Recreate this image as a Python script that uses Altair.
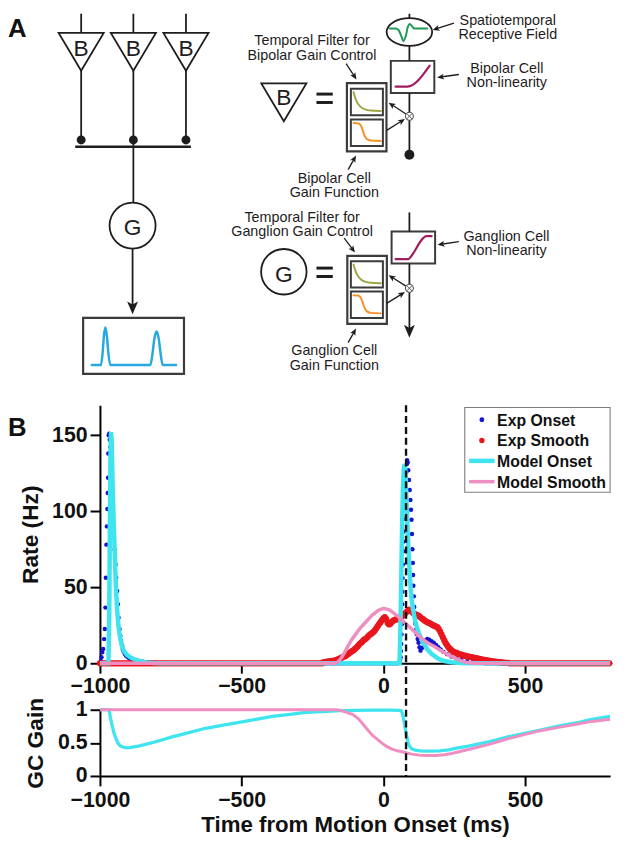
import math
import altair as alt
import pandas as pd

FONT = "Liberation Sans"
INK = "#1f1c1d"

# ======================= Panel B : values =======================
SERIES = ["Exp Onset", "Exp Smooth", "Model Onset", "Model Smooth"]
SERIES_COLORS = ["#1414cf", "#e8161c", "#3ee4ef", "#ef8fc1"]
X_TICKS = [-1000, -500, 0, 500]
RATE_TICKS = [0, 50, 100, 150]
GAIN_TICKS = [0, 0.5, 1]
MOTION_MARK_MS = 80

# Exp Onset (ms, Hz): first burst
exp_onset_burst1 = [(-1000, 0.5), (-997, 1.5), (-994.5, 3.9), (-992, 7.2), (-988.6, 9.4), (-985.2, 15.9),
                    (-982.8, 22.5), (-980.7, 36.6), (-979.3, 56.2), (-977.2, 78), (-975.5, 90), (-973.8, 101.5),
                    (-972.5, 112), (-971.4, 122), (-970.5, 138), (-969, 150), (-967.5, 151), (-965.5, 147),
                    (-963.3, 142.3), (-962, 131), (-961, 121), (-960, 112.9), (-957.6, 103), (-954, 94.4),
                    (-950.7, 84.6), (-948.3, 74.8), (-945, 65), (-942.6, 56.2), (-939.3, 47.5), (-937, 38.8),
                    (-934.5, 30), (-931, 22.5), (-928, 18), (-925.5, 14.8), (-922, 11.8), (-919.7, 9.4),
                    (-917, 8), (-914, 7), (-911, 6), (-908, 5), (-904, 4.4), (-900, 3.8), (-896, 3.3), (-891, 2.9),
                    (-885, 2.5), (-880, 2.2), (-875, 1.9), (-870, 1.7), (-863, 1.5), (-856.6, 1.3), (-850, 1.1),
                    (-845, 0.9), (-838, 0.7), (-830, 0.6), (-822, 0.5), (-815, 0.4), (-808, 0.3), (-800, 0.2)]
# Exp Onset: second burst
exp_onset_burst2 = [(57, 1), (59, 2.5), (61, 4), (62, 8), (63, 12.7), (64, 19), (65, 25.7), (66, 32),
                    (66.5, 38.8), (67.5, 47), (68, 56), (69, 65), (70, 73.7), (71, 80), (72, 86.7), (74, 95),
                    (75.5, 103), (77, 109), (78.5, 115), (80, 121), (81.5, 126), (83, 131), (84, 133.6),
                    (86, 132), (88, 127), (90.5, 120.5), (93, 114), (95.5, 107.4), (97.5, 101), (99.3, 94.4),
                    (101, 85), (102.5, 75), (104, 66), (105, 58), (106, 51), (107.5, 44), (109, 37), (111, 31),
                    (113, 26), (115.5, 22), (118, 19), (121, 16), (124, 13.5), (127.5, 10.5), (131, 8.3),
                    (136, 10), (142, 13), (148, 15), (155, 16), (162, 15.5), (170, 14.5), (178, 13.5), (186, 12),
                    (194, 10.5), (202, 9), (212, 7.5), (225, 6), (240, 4.5), (258, 3.2), (275, 2.2), (295, 1.3),
                    (315, 0.7), (340, 0.3)]
# Exp Onset: time points where the rate sits on zero
exp_onset_zero_t = list(range(-790, 57, 8)) + list(range(360, 801, 8))

# Exp Smooth (ms, Hz)
exp_smooth_hump = [(-215, 0.5), (-210, 0.6), (-205, 0.8), (-200, 1.0), (-195, 1.0), (-190, 1.2), (-185, 1.4),
                   (-180, 1.6), (-175, 1.6), (-170, 1.9), (-165, 2.3), (-160, 2.6), (-155, 3.0), (-150, 3.3),
                   (-145, 3.9), (-140, 4.4), (-135, 4.6), (-130, 5.2), (-125, 6.0), (-120, 6.8), (-115, 7.4),
                   (-110, 8.0), (-105, 8.6), (-100, 9.4), (-95, 10.3), (-90, 11.2), (-85, 12.5), (-80, 13.3),
                   (-75, 14.0), (-70, 15.2), (-65, 15.8), (-60, 16.4), (-55, 17.5), (-50, 18.4), (-45, 19.2),
                   (-40, 19.8), (-35, 20.6), (-30, 21.6), (-25, 23.0), (-20, 24.4), (-15, 25.8), (-10, 27.0),
                   (-5, 28.4), (0, 29.6), (5, 30.4), (10, 29.0), (15, 26.5), (20, 25.5), (25, 26.0), (30, 27.2),
                   (35, 28.0), (40, 28.5), (45, 28.8), (50, 29.0), (55, 29.4), (60, 30.0), (65, 30.8), (70, 31.6),
                   (75, 32.5), (80, 33.4), (85, 34.3), (90, 35.2), (95, 35.0), (100, 34.0), (105, 33.0),
                   (110, 32.4), (115, 32.0), (120, 31.6), (125, 31.2), (130, 30.4), (135, 29.6), (140, 29.0),
                   (145, 28.2), (150, 27.6), (155, 27.0), (160, 26.6), (165, 26.2), (170, 25.6), (175, 25.0),
                   (180, 24.6), (185, 24.2), (190, 23.8), (195, 22.6), (200, 21.0), (205, 19.0), (210, 17.0),
                   (215, 15.0), (220, 13.2), (225, 11.8), (230, 10.4), (235, 9.4), (240, 8.6), (245, 7.9),
                   (250, 7.4), (255, 7.0), (260, 6.6), (265, 6.2), (270, 5.9), (275, 5.6), (280, 5.3), (285, 5.0),
                   (290, 4.8), (295, 4.6), (300, 4.4), (305, 4.2), (310, 4.0), (315, 3.8), (320, 3.6), (325, 3.4),
                   (330, 3.2), (335, 3.0), (340, 2.8), (345, 2.6), (350, 2.4), (355, 2.2), (360, 2.0), (365, 1.9),
                   (370, 1.7), (375, 1.6), (380, 1.4), (385, 1.3), (390, 1.1), (395, 1.0), (400, 0.9), (405, 0.8),
                   (410, 0.7), (415, 0.6), (420, 0.5), (425, 0.4), (430, 0.3), (435, 0.2), (440, 0.2)]
exp_smooth_zero_t = list(range(-1000, -215, 8)) + list(range(445, 801, 8))

# Model Onset (ms, Hz)
model_onset = [(-1000, 0), (-970, 0), (-967, 35), (-965, 90), (-963, 135), (-961, 152), (-959, 148), (-957, 132),
               (-955, 115), (-953, 103), (-951, 90), (-949, 79), (-946, 62), (-943, 47), (-940, 37), (-937, 29),
               (-933, 22), (-929, 17), (-924, 12.5), (-916, 8.3), (-905, 5.5), (-893, 3.9), (-875, 2.3),
               (-857, 1.3), (-835, 0.6), (-810, 0.2), (-780, 0), (57, 0), (60, 22), (63, 55), (66, 90),
               (69, 115), (72, 128), (75, 131), (78, 126), (81, 110), (84, 95), (87, 82), (90, 70),
               (93, 59), (96.5, 49), (100, 42), (104, 36), (109, 31), (115, 26), (121, 22), (126, 19.5),
               (131, 17.5), (137, 15), (144, 12.5), (155, 9.2), (171, 6.1), (194, 2.9), (215, 1.5), (240, 0.7),
               (270, 0.2), (300, 0), (800, 0)]
# Model Smooth (ms, Hz)
model_smooth = [(-1000, 0), (-170, 0), (-160, 1), (-150, 3), (-140, 6), (-130, 9.5), (-120, 13), (-110, 16),
                (-100, 18.5), (-90, 21), (-80, 23.5), (-70, 25.5), (-60, 27.5), (-50, 29.5), (-40, 31.5),
                (-30, 33), (-20, 34.5), (-10, 35.5), (0, 36), (10, 35.8), (20, 35.2), (30, 34), (40, 32.5),
                (50, 31), (60, 29.2), (80, 26), (100, 22.5), (120, 19), (140, 15.5), (160, 13), (180, 11),
                (200, 8.7), (220, 6.5), (240, 4.5), (260, 2.8), (280, 1.3), (300, 0.3), (320, 0), (800, 0)]

# GC gain (ms, gain)
gain_onset = [(-1000, 1), (-968, 1), (-962, 0.86), (-956, 0.74), (-950, 0.64), (-944, 0.57), (-937, 0.5),
              (-930, 0.46), (-922, 0.44), (-914, 0.43), (-905, 0.425), (-895, 0.428), (-880, 0.44), (-860, 0.455),
              (-800, 0.52), (-745, 0.59), (-700, 0.64), (-627, 0.72), (-560, 0.77), (-509, 0.81), (-450, 0.855),
              (-391, 0.9), (-330, 0.93), (-273, 0.96), (-200, 0.975), (-155, 0.985), (-100, 0.99), (-37, 0.995),
              (20, 0.995), (58, 0.99), (63, 0.985), (68, 0.93), (74, 0.8), (80, 0.65), (86, 0.52), (92, 0.45),
              (100, 0.41), (112, 0.39), (130, 0.38), (160, 0.375), (199, 0.38), (230, 0.395), (258, 0.42),
              (300, 0.45), (376, 0.52), (430, 0.58), (494, 0.64), (550, 0.69), (613, 0.75), (680, 0.8),
              (731, 0.85), (800, 0.9)]
gain_smooth = [(-1000, 1), (-165, 1), (-150, 0.99), (-130, 0.96), (-109, 0.93), (-90, 0.87), (-75, 0.8),
               (-60, 0.72), (-40, 0.62), (-20, 0.55), (-6, 0.5), (10, 0.45), (28, 0.41), (50, 0.38), (80, 0.35),
               (100, 0.33), (126, 0.315), (150, 0.31), (184, 0.31), (215, 0.32), (241, 0.34), (270, 0.37),
               (300, 0.4), (376, 0.48), (430, 0.55), (494, 0.62), (550, 0.68), (613, 0.73), (680, 0.78),
               (731, 0.82), (800, 0.855)]

# ======================= Panel A : schematic drawing (figure pixel units) =======================
SCHEM_LINES = [  # x1, y1, x2, y2, width
    (82, 9, 82, 28.3, 1.8), (134.8, 9, 134.8, 28.3, 1.8), (188, 9, 188, 28.3, 1.8),
    (82, 66.7, 82, 136.7, 1.8), (134.8, 66.7, 134.8, 199.8, 1.8), (188, 66.7, 188, 136.7, 1.8),
    (76, 143.5, 193, 143.5, 2.6),
    (414, 9, 414, 13.5, 1.8), (414, 41.5, 414, 56.7, 1.8), (414, 89.3, 414, 108.7, 1.8),
    (414, 116.7, 414, 147, 1.8), (414, 210, 414, 229.3, 1.8), (414, 261.7, 414, 282.7, 1.8),
    (320, 90.3, 336.5, 90.3, 3), (320, 98.8, 336.5, 98.8, 3),
    (320, 266.3, 336.5, 266.3, 3), (320, 274.8, 336.5, 274.8, 3),
]
SCHEM_ARROWS = [  # tail x, tail y, tip x, tip y, head length
    (134, 246.7, 134, 313, 13), (414, 290.7, 414, 336.7, 13),
    (459, 18.5, 437.5, 25.5, 7), (464, 70.5, 442, 73.5, 7), (350, 59.5, 360.5, 75.5, 7),
    (352, 166.7, 360, 152.5, 7), (410.5, 110.5, 393, 99, 7), (391, 127, 409.5, 115.5, 7),
    (348, 236, 359, 250.5, 7), (464, 239.5, 442.5, 242.7, 7), (410.5, 284.5, 393, 273.5, 7),
    (391, 302, 409.5, 290.5, 7), (352, 341.7, 360, 327.5, 7),
]
SCHEM_BOXES = [  # x1, y1, x2, y2, width
    (395.2, 56.7, 439.2, 89.3, 2), (396, 229.3, 440, 261.7, 2),
    (350.8, 79.3, 390.8, 148.3, 2.2), (354.8, 85, 387.2, 111.7, 2), (354.8, 116, 387.2, 142.7, 2),
    (351.2, 254, 391.2, 322.7, 2.2), (354.8, 259.3, 387.2, 286, 2), (354.8, 290, 387.2, 316.7, 2),
    (84, 316.7, 186, 373.3, 2.2),
]
SCHEM_TRIANGLES = [(82, 47.5), (134.8, 47.5), (188, 47.5), (287, 98.7)]
SCHEM_CIRCLES = [(134, 223.3, 46.6), (287, 270, 46)]       # x, y, diameter
SCHEM_ELLIPSES = [(414, 27.5, 46)]                         # x, y, width
SCHEM_MULT = [(414, 112.7), (414, 286.7)]
SCHEM_DOTS = [(82, 136.7, 9), (134.8, 136.7, 9), (188, 136.7, 9), (414, 151.7, 10)]
SCHEM_CURVES = {
    "rf": ("#1e9a55", 2.0, [(394, 24), (400, 24), (403, 25.5), (405.5, 31), (408, 36.5), (410.5, 31),
                            (412.5, 22), (414.5, 19.5), (416.5, 21.5), (419, 24), (432, 24)]),
    "nl1": ("#a11c5f", 2.2, [(400, 82.7), (412, 82.7), (434.5, 61.5)]),
    "nl2": ("#a11c5f", 2.2, [(400, 257.3), (413, 257.3), (416, 254), (428, 236), (431, 234), (436.5, 234)]),
    "dec1": ("#9fa444", 2.0, [(357.5, 88.5), (359.5, 95), (362, 100), (365, 103.5), (369, 105.7),
                              (375, 106.9), (385, 107.4)]),
    "sig1": ("#f5922a", 2.0, [(357.5, 119.5), (362, 119.8), (364.5, 121.5), (366.5, 126), (368.5, 132),
                              (371, 135.8), (375, 137.3), (385, 137.8)]),
    "dec2": ("#9fa444", 2.0, [(357.5, 262.8), (359.5, 269.3), (362, 274.3), (365, 277.8), (369, 280),
                              (375, 281.2), (385, 281.7)]),
    "sig2": ("#f5922a", 2.0, [(357.5, 293.8), (362, 294.1), (364.5, 295.8), (366.5, 300.3), (368.5, 306.3),
                              (371, 310.1), (375, 311.6), (385, 312.1)]),
    "out": ("#27a8e0", 2.5, [(92.8, 364.3), (102, 364.3), (103.7, 352), (105, 335), (106.5, 326.5), (108, 335),
                             (109.5, 352), (111.5, 364.3), (152, 364.3), (154, 354), (156, 338), (158.3, 330.5),
                             (160.5, 338), (162.5, 354), (164.5, 364.3), (178, 364.3)]),
}
SCHEM_LABELS = [  # two-line labels: text, x centre, first baseline
    ("Spatiotemporal\nReceptive Field", 513.5, 20.5),
    ("Temporal Filter for\nBipolar Gain Control", 315.5, 40.8),
    ("Bipolar Cell\nNon-linearity", 512.5, 68.5),
    ("Bipolar Cell\nGain Function", 338, 180),
    ("Temporal Filter for\nGanglion Gain Control", 305.5, 219.5),
    ("Ganglion Cell\nNon-linearity", 512.2, 238.5),
    ("Ganglion Cell\nGain Function", 338, 354.5),
]
SCHEM_LETTERS = [("B", 82, 51.7), ("B", 134.8, 51.7), ("B", 188, 51.7), ("B", 287, 101.7),
                 ("G", 134, 233.3), ("G", 287, 280)]
PANEL_LETTERS = [("A", 8, 33), ("B", 8, 435.7)]

TRI_PATH = "M-1,-0.84L1,-0.84L0,0.84Z"
ELL_PATH = ("M-1,0C-1,-0.337,-0.552,-0.61,0,-0.61C0.552,-0.61,1,-0.337,1,0"
            "C1,0.337,0.552,0.61,0,0.61C-0.552,0.61,-1,0.337,-1,0Z")
X_PATH = "M-0.7,-0.7L0.7,0.7M-0.7,0.7L0.7,-0.7"
HEAD_PATH = "M0,-1L0.85,1L0,0.5L-0.85,1Z"

# ======================= layout (pixels) =======================
X0 = 101                  # left edge of the plot areas
W, H_TOP, H_BOT = 516, 261, 67
GAP = 47
SH = 405 - 8 - GAP        # schematic panel height so that panel B starts at y = 405
RATE_MAX = 169.7

# ======================= schematic chart =======================
sx = alt.Scale(domain=[X0, X0 + W], nice=False, zero=False)
sy = alt.Scale(domain=[8, 8 + SH], nice=False, zero=False, reverse=True)


def SX(f="x"):
    return alt.X(f"{f}:Q", scale=sx, axis=None)


def SY(f="y"):
    return alt.Y(f"{f}:Q", scale=sy, axis=None)


lines_df = pd.DataFrame(SCHEM_LINES, columns=["x", "y", "x2", "y2", "w"])
shafts, heads = [], []
for (x1, y1, x2, y2, s) in SCHEM_ARROWS:
    dx, dy = x2 - x1, y2 - y1
    L = math.hypot(dx, dy)
    ux, uy = dx / L, dy / L
    cx, cy = x2 - ux * s / 2, y2 - uy * s / 2
    ang = (math.degrees(math.atan2(dx, -dy)) + 360) % 360
    shafts.append(dict(x=x1, y=y1, x2=cx, y2=cy, w=1.8 if s > 10 else 1.3))
    heads.append(dict(x=cx, y=cy, ang=ang, size=s * s))
shafts_df = pd.DataFrame(shafts)
heads_df = pd.DataFrame(heads)
boxes_df = pd.DataFrame(SCHEM_BOXES, columns=["x", "y", "x2", "y2", "w"])
tri_df = pd.DataFrame(SCHEM_TRIANGLES, columns=["x", "y"])
circ_df = pd.DataFrame([dict(x=a, y=b, size=d * d) for a, b, d in SCHEM_CIRCLES])
ell_df = pd.DataFrame([dict(x=a, y=b, size=d * d) for a, b, d in SCHEM_ELLIPSES])
mult_df = pd.DataFrame(SCHEM_MULT, columns=["x", "y"])
dots_df = pd.DataFrame([dict(x=a, y=b, size=d * d) for a, b, d in SCHEM_DOTS])
curve_rows = []
for cid, (col, w, pts) in SCHEM_CURVES.items():
    for i, (a, b) in enumerate(pts):
        curve_rows.append(dict(id=cid, col=col, w=w, i=i, x=a, y=b))
curves_df = pd.DataFrame(curve_rows)
labels_df = pd.DataFrame(SCHEM_LABELS, columns=["text", "x", "y"])
letters_df = pd.DataFrame(SCHEM_LETTERS, columns=["text", "x", "y"])
panel_df = pd.DataFrame(PANEL_LETTERS, columns=["text", "x", "y"])

s_boxes = alt.Chart(boxes_df).mark_rect(fillOpacity=0, stroke="#3b3b3b").encode(
    x=SX(), y=SY(), x2="x2:Q", y2="y2:Q", strokeWidth=alt.StrokeWidth("w:Q", scale=None))
s_curves = alt.Chart(curves_df).mark_line(interpolate="monotone", strokeCap="round").encode(
    x=SX(), y=SY(), color=alt.Color("col:N", scale=None), detail="id:N",
    strokeWidth=alt.StrokeWidth("w:Q", scale=None), order=alt.Order("i:Q"))
s_lines = alt.Chart(lines_df).mark_rule(color=INK, strokeCap="butt").encode(
    x=SX(), y=SY(), x2="x2:Q", y2="y2:Q", strokeWidth=alt.StrokeWidth("w:Q", scale=None))
s_shafts = alt.Chart(shafts_df).mark_rule(color=INK, strokeCap="butt").encode(
    x=SX(), y=SY(), x2="x2:Q", y2="y2:Q", strokeWidth=alt.StrokeWidth("w:Q", scale=None))
s_tri = alt.Chart(tri_df).mark_point(shape=TRI_PATH, size=2079, filled=False, color=INK, strokeWidth=1.8,
                                     opacity=1).encode(x=SX(), y=SY())
s_circ = alt.Chart(circ_df).mark_point(shape="circle", filled=False, color=INK, strokeWidth=1.8,
                                       opacity=1).encode(x=SX(), y=SY(), size=alt.Size("size:Q", scale=None))
s_ell = alt.Chart(ell_df).mark_point(shape=ELL_PATH, filled=False, color=INK, strokeWidth=1.8,
                                     opacity=1).encode(x=SX(), y=SY(), size=alt.Size("size:Q", scale=None))
s_mult_c = alt.Chart(mult_df).mark_point(shape="circle", size=64, filled=False, color="#555", strokeWidth=1.1,
                                         opacity=1).encode(x=SX(), y=SY())
s_mult_x = alt.Chart(mult_df).mark_point(shape=X_PATH, size=64, filled=False, color="#555", strokeWidth=1.0,
                                         opacity=1).encode(x=SX(), y=SY())
s_dots = alt.Chart(dots_df).mark_point(shape="circle", filled=True, color=INK, opacity=1).encode(
    x=SX(), y=SY(), size=alt.Size("size:Q", scale=None))
s_heads = alt.Chart(heads_df).mark_point(shape=HEAD_PATH, filled=True, color=INK, opacity=1).encode(
    x=SX(), y=SY(), size=alt.Size("size:Q", scale=None), angle=alt.Angle("ang:Q", scale=None))
s_labels = alt.Chart(labels_df).mark_text(font=FONT, fontSize=14.5, color=INK, align="center",
                                          baseline="alphabetic", lineBreak="\n", lineHeight=14.6).encode(
    x=SX(), y=SY(), text="text:N")
s_letters = alt.Chart(letters_df).mark_text(font=FONT, fontSize=23, color=INK, align="center",
                                            baseline="alphabetic").encode(x=SX(), y=SY(), text="text:N")
s_panel = alt.Chart(panel_df).mark_text(font=FONT, fontSize=26, fontWeight="bold", color="#111",
                                        align="left", baseline="alphabetic").encode(x=SX(), y=SY(), text="text:N")

schematic = alt.layer(s_boxes, s_curves, s_lines, s_shafts, s_tri, s_circ, s_ell, s_mult_c, s_mult_x,
                      s_dots, s_heads, s_labels, s_letters, s_panel).properties(width=W, height=SH)

# ======================= Panel B charts =======================


def pairs_df(pairs, series, col="v"):
    return pd.DataFrame({"t": [p[0] for p in pairs], col: [p[1] for p in pairs], "series": series})


onset_df = pd.concat([
    pd.DataFrame({"t": exp_onset_zero_t, "v": [0.0] * len(exp_onset_zero_t), "series": "Exp Onset"}),
    pairs_df(exp_onset_burst1, "Exp Onset"), pairs_df(exp_onset_burst2, "Exp Onset")], ignore_index=True)
smooth_df = pd.concat([
    pd.DataFrame({"t": exp_smooth_zero_t, "v": [0.0] * len(exp_smooth_zero_t), "series": "Exp Smooth"}),
    pairs_df(exp_smooth_hump, "Exp Smooth")], ignore_index=True)
m_onset_df = pairs_df(model_onset, "Model Onset")
m_smooth_df = pairs_df(model_smooth, "Model Smooth")
g_onset_df = pairs_df(gain_onset, "Model Onset", "g")
g_smooth_df = pairs_df(gain_smooth, "Model Smooth", "g")

xs = alt.Scale(domain=[-1000, 800], nice=False, zero=False)
X_LABEL = "datum.value < 0 ? '\u2212' + format(-datum.value, 'd') + '\u2002' : format(datum.value, 'd')"
top_x = alt.X("t:Q", scale=xs, axis=alt.Axis(values=X_TICKS, labelExpr=X_LABEL, title=None, labelPadding=3))
top_y = alt.Y("v:Q", scale=alt.Scale(domain=[0, RATE_MAX], nice=False),
              axis=alt.Axis(values=RATE_TICKS, title="Rate (Hz)", titleAngle=270, titleX=-63.5,
                            titleY=H_TOP / 2, titleAlign="center", titleBaseline="alphabetic"))

p_onset = alt.Chart(onset_df).mark_circle(size=20, opacity=1, color=SERIES_COLORS[0]).encode(x=top_x, y=top_y)
p_smooth = alt.Chart(smooth_df).mark_circle(size=40, opacity=1, color=SERIES_COLORS[1]).encode(x=top_x, y=top_y)
l_onset = alt.Chart(m_onset_df).mark_line(strokeWidth=4.5, color=SERIES_COLORS[2]).encode(x=top_x, y=top_y)
l_smooth = alt.Chart(m_smooth_df).mark_line(strokeWidth=3.5, color=SERIES_COLORS[3]).encode(x=top_x, y=top_y)

# ---- legend box (pixel placement inside the rate panel) ----
LEG_BOX = (369, 2.3, 516, 88)
LEG_ROWS = [14.7, 35.7, 56.3, 77.3]
LEG_SYM_X, LEG_LINE_X, LEG_TEXT_X = 386.3, (373.4, 399.1), 401.7
one = pd.DataFrame({"k": [0]})
leg_layers = [alt.Chart(one).mark_rect(fill="#ffffff", stroke="#7d7d7d", strokeWidth=1.1).encode(
    x=alt.value(LEG_BOX[0]), x2=alt.value(LEG_BOX[2]), y=alt.value(LEG_BOX[1]), y2=alt.value(LEG_BOX[3]))]
for name, col, ry in zip(SERIES, SERIES_COLORS, LEG_ROWS):
    if name.startswith("Exp"):
        leg_layers.append(alt.Chart(one).mark_circle(size=24 if name == "Exp Onset" else 30, color=col,
                                                     opacity=1).encode(x=alt.value(LEG_SYM_X), y=alt.value(ry)))
    else:
        leg_layers.append(alt.Chart(one).mark_rule(color=col, strokeWidth=4.5 if name == "Model Onset" else 3.5).encode(
            x=alt.value(LEG_LINE_X[0]), x2=alt.value(LEG_LINE_X[1]), y=alt.value(ry)))
    leg_layers.append(alt.Chart(one).mark_text(font=FONT, fontSize=16, fontWeight="bold", color="#111",
                                               align="left", baseline="middle", dy=1).encode(
        x=alt.value(LEG_TEXT_X), y=alt.value(ry), text=alt.value(name)))

top = alt.layer(p_onset, p_smooth, l_onset, l_smooth, *leg_layers).properties(width=W, height=H_TOP)

bot_x = alt.X("t:Q", scale=xs, axis=alt.Axis(values=X_TICKS, labelExpr=X_LABEL, labelPadding=4,
                                             title="Time from Motion Onset (ms)", titleX=W / 2, titleY=56,
                                             titleFontSize=22.5, titleAlign="center", titleBaseline="alphabetic"))
bot_y = alt.Y("g:Q", scale=alt.Scale(domain=[0, 1], nice=False),
              axis=alt.Axis(values=GAIN_TICKS, format="~g", title="GC Gain", titleAngle=270, titleX=-58,
                            titleY=H_BOT / 2, titleAlign="center", titleBaseline="alphabetic"))
g_on = alt.Chart(g_onset_df).mark_line(strokeWidth=3.3, color=SERIES_COLORS[2]).encode(x=bot_x, y=bot_y)
g_sm = alt.Chart(g_smooth_df).mark_line(strokeWidth=3.0, color=SERIES_COLORS[3]).encode(x=bot_x, y=bot_y)
dash = alt.Chart(pd.DataFrame({"t": [MOTION_MARK_MS]})).mark_rule(
    color="#111", strokeWidth=2.4, strokeDash=[7, 4]).encode(
    x=bot_x, y=alt.value(-(H_TOP + GAP)), y2=alt.value(H_BOT))
bottom = alt.layer(g_on, g_sm, dash).properties(width=W, height=H_BOT)

chart = alt.vconcat(schematic, top, bottom, spacing=GAP, bounds="flush").properties(
    padding=0
).configure_view(strokeWidth=0).configure_axis(
    labelFont=FONT, labelFontSize=21.5, labelFontWeight="bold", labelColor="#111",
    titleFont=FONT, titleFontSize=23, titleFontWeight="bold", titleColor="#111",
    domainColor="#000", domainWidth=2, tickColor="#000", tickWidth=2, tickSize=10,
    grid=False, labelFlush=False, labelOverlap=False
).configure_axisY(labelPadding=3)

chart.save("out.html", embed_options={"renderer": "svg", "actions": False})
